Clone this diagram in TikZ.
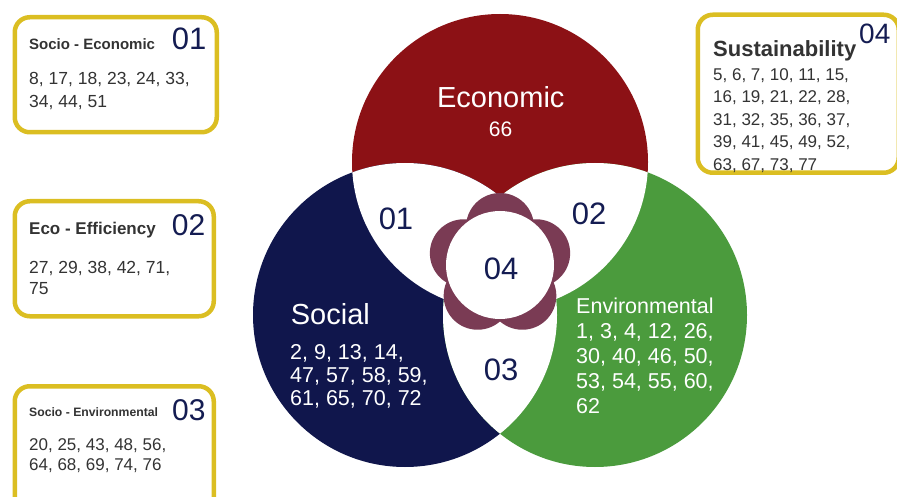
\documentclass[tikz,border=0pt]{standalone}
\usepackage{fontspec}
\setmainfont{Liberation Sans}
\usetikzlibrary{positioning}

\definecolor{ecored}{HTML}{8C1115}
\definecolor{socnavy}{HTML}{10164C}
\definecolor{envgreen}{HTML}{4B9B3D}
\definecolor{petalred}{HTML}{7A3B54}
\definecolor{boxgold}{HTML}{DBBE22}
\definecolor{areablue}{HTML}{141C52}
\definecolor{boxtext}{HTML}{333333}

\newcommand{\fsz}[2]{\fontsize{#1pt}{#2pt}\selectfont}

\begin{document}
\begin{tikzpicture}[x=1pt, y=-1pt,
    every node/.style={inner sep=0pt}, align=left]
		\tikzset{%
  % Specifications for style of nodes:
            infobox/.style = {rectangle, draw=boxgold, line width=4.5pt,
                           rounded corners=15pt, fill=white, anchor=north west},
  boxtitle/.style = {text=boxtext, anchor=base west, font=\bfseries},
       boxnums/.style = {text=boxtext, anchor=north west},
    boxno/.style = {text=areablue, anchor=base west},
         venntxt/.style = {text=white},
				 areano/.style = {text=areablue, font=\fsz{31}{31}},
       petal/.style = {fill=petalred},
}
  \useasboundingbox (0,0) rectangle (897,497);
  \clip (0,0) rectangle (897,497);

  % Circles of the Venn diagram
  \coordinate (eco) at (500,162);
  \coordinate (soc) at (405,315);
  \coordinate (env) at (595,315);
  \coordinate (fl) at (500,265);

  \fill[ecored] (eco) circle (148);
  \fill[socnavy] (soc) circle (152);
  \fill[envgreen] (env) circle (152);

  % overlaps are left white
  \begin{scope}
    \clip (eco) circle (148);
    \fill[white] (soc) circle (152);
    \fill[white] (env) circle (152);
  \end{scope}
  \begin{scope}
    \clip (soc) circle (152);
    \fill[white] (env) circle (152);
  \end{scope}

  % flower in the middle
  \foreach \a in {-90,-18,54,126,198}
    \fill[petal] (fl) ++(\a:38) circle (34);
  \fill[white] (fl) circle (54);

  % Texts of the circles
  \node (ecotitle) [venntxt, anchor=base, font=\fsz{29}{29}] at (500.8,107.3) {Economic};
  \node (ecocount) [venntxt, anchor=base, font=\fsz{21}{21}] at (500.5,137) {66};
  \node (soctitle) [venntxt, anchor=base west, font=\fsz{29}{29}] at (290.7,324) {Social};
  \node (socnums) [venntxt, anchor=north west, font=\fsz{21.5}{23}] at (290,344)
    {2, 9, 13, 14,\\47, 57, 58, 59,\\61, 65, 70, 72};
  \node (envnums) [venntxt, anchor=north west, font=\fsz{21.5}{25}] at (576,298)
    {Environmental\\1, 3, 4, 12, 26,\\30, 40, 46, 50,\\53, 54, 55, 60,\\62};

  \node (area1) [areano] at (396,219) {01};
  \node (area2) [areano] at (589,213.7) {02};
  \node (area3) [areano] at (501,370) {03};
  \node (area4) [areano] at (501,269) {04};

  % Boxes with the lists
  \node (box1) [infobox, minimum width=202pt, minimum height=115pt] at (12.5,15) {};
  \node (box2) [infobox, minimum width=199pt, minimum height=115pt] at (12.5,199) {};
  \node (box3) [infobox, minimum width=199pt, minimum height=130pt] at (12.5,384) {};
  \node (box4) [infobox, minimum width=201pt, minimum height=158pt] at (695.5,12.5) {};

  \node (b1title) [boxtitle, font=\bfseries\fsz{15}{15}] at (29,49.3) {Socio - Economic};
  \node (b1no) [boxno, font=\fsz{31}{31}] at (171.7,50) {01};
  \node (b1nums) [boxnums, font=\fsz{17.5}{23.3}] at (29,71.7)
    {8, 17, 18, 23, 24, 33,\\34, 44, 51};

  \node (b2title) [boxtitle, font=\bfseries\fsz{17}{17}] at (29,235) {Eco - Efficiency};
  \node (b2no) [boxno, font=\fsz{30}{30}] at (171.7,236) {02};
  \node (b2nums) [boxnums, font=\fsz{17.5}{21}] at (29,260.7)
    {27, 29, 38, 42, 71,\\75};

  \node (b3title) [boxtitle, font=\bfseries\fsz{12.2}{12.2}] at (29,416) {Socio - Environmental};
  \node (b3no) [boxno, font=\fsz{30}{30}] at (172,420) {03};
  \node (b3nums) [boxnums, font=\fsz{17}{20}] at (29,438.3)
    {20, 25, 43, 48, 56,\\64, 68, 69, 74, 76};

  \node (b4title) [boxtitle, font=\bfseries\fsz{22}{22}] at (713,56.7) {Sustainability};
  \node (b4no) [boxno, font=\fsz{28}{28}] at (859,44) {04};
  \node (b4nums) [boxnums, font=\fsz{17}{22.5}] at (713,68.3)
    {5, 6, 7, 10, 11, 15,\\16, 19, 21, 22, 28,\\31, 32, 35, 36, 37,\\39, 41, 45, 49, 52,\\63, 67, 73, 77};

  \end{tikzpicture}
\end{document}
